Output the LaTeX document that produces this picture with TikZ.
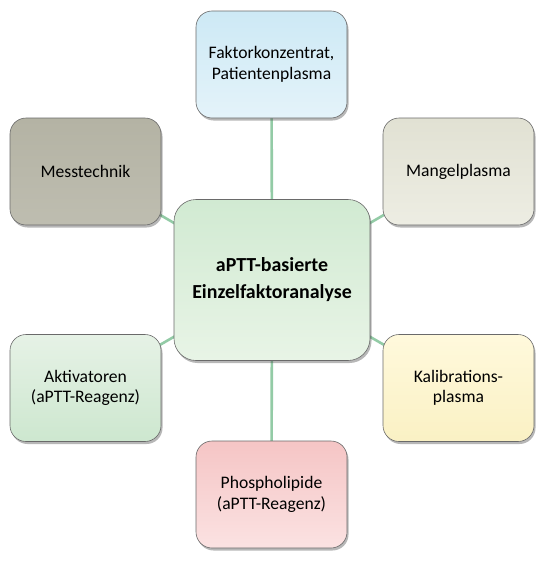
\documentclass[tikz,border=0pt]{standalone}
\usepackage{fontspec}
\setmainfont{Carlito}
\usetikzlibrary{positioning,shadows,backgrounds}
\definecolor{Edge}{HTML}{6A6A6A}
\definecolor{Link}{HTML}{93CBA6}
\definecolor{BlueTop}{HTML}{CDE9F5}
\definecolor{BlueBot}{HTML}{E4F3FA}
\definecolor{TaupeTop}{HTML}{B4B3A4}
\definecolor{TaupeBot}{HTML}{BEBDB0}
\definecolor{SandTop}{HTML}{E1E1D3}
\definecolor{SandBot}{HTML}{EDEDE3}
\definecolor{HubTop}{HTML}{D1EAD2}
\definecolor{HubBot}{HTML}{E8F4E6}
\definecolor{MintTop}{HTML}{E6F2E6}
\definecolor{MintBot}{HTML}{CDE7CF}
\definecolor{CreamTop}{HTML}{FFF9DC}
\definecolor{CreamBot}{HTML}{FAF1C4}
\definecolor{RoseTop}{HTML}{F5C5C5}
\definecolor{RoseBot}{HTML}{FBE2E2}
\tikzset{
 box/.style={draw=Edge, line width=0.6pt, rounded corners=16pt, minimum width=151pt, minimum height=107pt, align=center, font=\fontsize{17.6}{20.5}\selectfont, drop shadow={shadow xshift=1.5pt, shadow yshift=-2.5pt, opacity=0.4, fill=black!70}},
 bluebox/.style={box, top color=BlueTop, bottom color=BlueBot},
 taupebox/.style={box, top color=TaupeTop, bottom color=TaupeBot},
 sandbox/.style={box, top color=SandTop, bottom color=SandBot},
 mintbox/.style={box, top color=MintTop, bottom color=MintBot},
 creambox/.style={box, top color=CreamTop, bottom color=CreamBot},
 rosebox/.style={box, top color=RoseTop, bottom color=RoseBot},
 hub/.style={box, minimum width=196pt, minimum height=161pt, rounded corners=22pt, font=\bfseries\fontsize{19.9}{27}\selectfont, top color=HubTop, bottom color=HubBot},
 link/.style={draw=Link, line width=2.6pt}
}
\begin{document}
\begin{tikzpicture}[x=1pt,y=1pt]
\useasboundingbox (0,0) rectangle (550,-562);
% centre and the six factors round it
\node[hub] (hub) at (272,-280) {aPTT-basierte\\Einzelfaktoranalyse};
\node[bluebox] (konz) at (271.5,-64.5) {Faktorkonzentrat,\\Patientenplasma};
\node[taupebox] (mess) at (85.5,-171.5) {Messtechnik};
\node[sandbox] (mangel) at (458.5,-171.5) {Mangelplasma};
\node[mintbox] (aktiv) at (85.5,-388) {Aktivatoren\\(aPTT-Reagenz)};
\node[creambox] (kalib) at (458.5,-388) {Kalibrations-\\plasma};
\node[rosebox] (phospho) at (271.5,-494.5) {Phospholipide\\(aPTT-Reagenz)};
% spokes behind the boxes
\begin{scope}[on background layer]
\foreach \n in {konz,mess,mangel,aktiv,kalib,phospho}
  \draw[link] (hub.center) -- (\n.center);
\end{scope}
\end{tikzpicture}
\end{document}
